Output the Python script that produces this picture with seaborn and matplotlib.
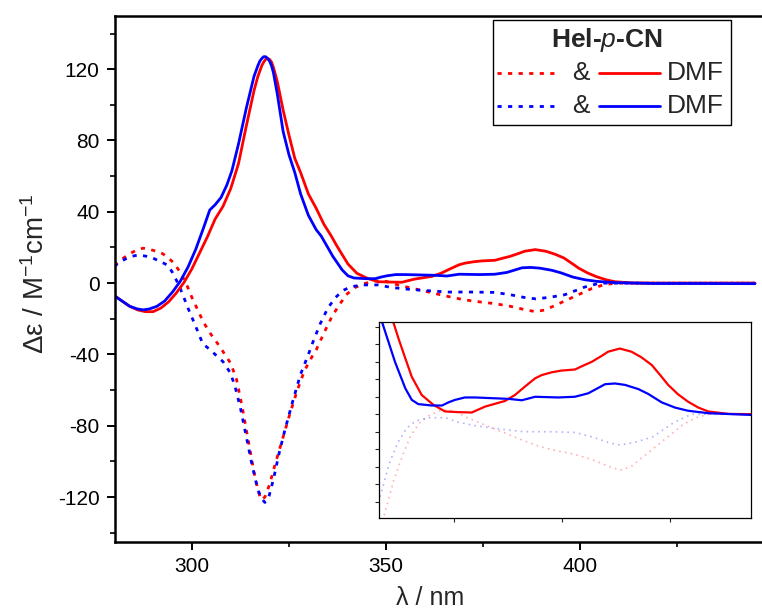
import numpy as np
import pandas as pd
import matplotlib
matplotlib.use("Agg")
import matplotlib.pyplot as plt
from matplotlib.lines import Line2D
from matplotlib.patches import Rectangle
from matplotlib.ticker import MultipleLocator
import seaborn as sns

# ---------------- data ----------------
wl_red_solid = [280, 282, 284, 286, 288, 290, 292, 294, 296, 298, 300, 302, 304, 306,
                308, 310, 312, 314, 316, 317, 318, 318.5, 319, 319.5, 320, 320.5, 321,
                322, 323.5, 325, 326.5, 328, 330, 332, 334, 335.9, 337.3, 338.7, 340.2,
                342.5, 345.2, 347.9, 351, 354.1, 357.2, 361.8, 364.1, 366.4, 368.8,
                370.3, 372.6, 374.9, 378, 379.9, 381.9, 384.2, 385.7, 388.4, 391.1,
                393.4, 395.8, 398.1, 399.6, 401.9, 404.2, 406.6, 408.9, 413.5, 420,
                430, 445]
red_solid = [-7, -10, -13, -15, -16, -16, -14, -10.5, -5.5, 0.5, 8, 17, 26, 36,
             43, 53, 67, 88, 108, 116, 122, 124, 125.5, 126, 125.5, 124, 121,
             113, 97, 83, 70, 62, 50, 42, 33, 26.4, 21, 16, 10.7,
             5.5, 2.7, 0.8, 0.6, 0.5, 2.2, 3.8, 5.5, 7.9, 10.3,
             11.2, 12, 12.5, 12.8, 13.9, 15, 16.7, 17.9, 18.8, 17.9,
             16.3, 14.1, 10.7, 8.4, 5.7, 3.6, 1.9, 0.8, 0.1, 0,
             0, 0]

wl_blue_solid = [280, 282, 284, 286, 287.5, 289, 291, 293, 295, 297, 299, 301, 303, 304.6,
                 306, 307.5, 309, 310.3, 312, 314, 315, 316, 317, 317.5, 318, 318.5, 319,
                 319.5, 320, 320.5, 321, 322, 323.5, 325, 326.5, 328, 330, 332, 333.3,
                 334.8, 336.3, 338.7, 340.2, 341.7, 344.8, 347.2, 348.7, 350.2, 352.5,
                 354.9, 358.7, 362.6, 365.7, 368.8, 374.1, 378, 381.1, 385, 387.3, 389.6,
                 392.7, 395, 398.1, 401.2, 404.2, 408.9, 418.9, 430, 445]
blue_solid = [-7, -10, -13, -14.5, -15, -14.5, -13, -10, -5, 1, 9, 19, 31, 41,
              44, 48, 55, 63, 78, 98, 107, 116, 122, 124.5, 126, 127, 127,
              126, 124.5, 122, 118, 106, 85, 72, 62, 50, 38, 30, 26.4,
              20.7, 15, 7.4, 4.1, 2.9, 2.5, 2.5, 3.4, 4.1, 4.8,
              4.8, 4.6, 4.4, 4.0, 5.0, 4.8, 5.0, 6.0, 8.6, 8.8, 8.4,
              7.2, 5.8, 3.4, 1.9, 1.0, 0.3, -0.2, -0.2, -0.3]

wl_red_dot = [280, 282, 284, 286, 287.5, 289, 291, 292.5, 294, 295.5, 297, 298.5, 300,
              301.5, 303, 305, 307, 308.5, 310, 311.5, 313, 314.5, 316, 317, 317.8,
              318.8, 320, 321.5, 323, 325, 327, 329, 331, 332, 334, 336, 338, 340, 342,
              344, 347, 350, 353, 358, 362, 366, 370, 374, 378, 382, 386, 388.5, 391,
              394, 397, 400, 403, 406, 409, 420, 445]
red_dot = [10, 13.5, 16.5, 18.8, 19.6, 19, 17.8, 16.5, 14, 11, 6, 0, -8,
           -15, -22, -29, -35, -40, -45, -54, -70, -88, -106, -116, -121.5,
           -120, -113, -101, -90, -75, -61, -49, -41, -37.5, -28, -19, -12, -6, -2.5,
           -0.5, 1.2, 1, -1, -3.5, -5.5, -7.5, -9.3, -10.5, -11.5, -13, -15, -16, -15,
           -12, -9, -6, -3, -1, 0, 0, 0]

wl_blue_dot = [280, 282, 284, 286, 288, 290, 292, 293.8, 295, 296, 297, 298, 299, 300.3,
               301.5, 302.8, 304.5, 306, 308, 309.8, 311, 312.5, 314, 315.5, 317, 318,
               318.8, 319.8, 321, 322.5, 324, 326, 328, 330, 331, 333, 335, 337, 339,
               341, 344, 348, 351, 355, 359, 366, 372, 378, 382, 386, 388.5, 392, 396,
               399, 401, 405, 420, 445]
blue_dot = [9.5, 12.5, 14.8, 15.7, 15.2, 14, 12, 10, 6, 1.7, -3, -8.4, -14, -20.7,
            -27, -34, -37, -40, -44, -50, -57, -70, -86, -102, -116, -121,
            -123, -120, -110, -95, -82, -66, -51, -40, -34, -23, -14, -8, -4,
            -2, -1, -1, -2.3, -3.3, -4, -5, -5, -5.2, -6.5, -8.2, -8.8, -8, -6.5,
            -4, -2.3, 0, 0, 0]

x_major_ticks = [300, 350, 400]
y_major_ticks = [-120, -80, -40, 0, 40, 80, 120]
inset_x_ticks = [350, 375, 400]

legend_title = "Hel-$\\mathit{p}$-CN"
legend_rows = ["DMF", "DMF"]

RED = "#ff0000"
BLUE = "#0000ff"

# ---------------- style ----------------
sns.set_theme(style="ticks")
plt.rcParams["font.family"] = ["Liberation Sans", "DejaVu Sans"]
plt.rcParams["mathtext.fontset"] = "custom"
plt.rcParams["mathtext.rm"] = "Liberation Sans"
plt.rcParams["mathtext.it"] = "Liberation Sans:italic"
plt.rcParams["mathtext.bf"] = "Liberation Sans:bold"
plt.rcParams["axes.unicode_minus"] = False

fig = plt.figure(figsize=(7.62, 6.10), dpi=100)
ax = fig.add_axes([0.1509, 0.112, 1.0 - 0.1509, 0.9743 - 0.112])

dot_ls = (0, (1.5, 2.3))
series = [
    (wl_red_dot, red_dot, RED, dot_ls),
    (wl_blue_dot, blue_dot, BLUE, dot_ls),
    (wl_red_solid, red_solid, RED, "-"),
    (wl_blue_solid, blue_solid, BLUE, "-"),
]
for xs, ys, c, ls in series:
    sns.lineplot(x=xs, y=ys, ax=ax, color=c, linestyle=ls, linewidth=2.0,
                 sort=False, estimator=None)

ax.set_xlim(280.2, 446.8)
ax.set_ylim(-145, 150)
ax.set_xticks(x_major_ticks)
ax.set_yticks(y_major_ticks)
ax.xaxis.set_minor_locator(MultipleLocator(25))
ax.yaxis.set_minor_locator(MultipleLocator(20))
ax.tick_params(axis="both", which="major", direction="out", length=6, width=1.4,
               labelsize=15, pad=5, colors="black")
ax.tick_params(axis="both", which="minor", direction="out", length=3.5, width=1.4)
for s in ["left", "bottom", "top"]:
    ax.spines[s].set_linewidth(1.8)
    ax.spines[s].set_color("black")
ax.spines["right"].set_visible(False)

ax.set_xlabel("λ / nm", fontsize=18)
ax.set_ylabel("Δε / M$^{\\mathregular{-1}}$cm$^{\\mathregular{-1}}$", fontsize=20)
ax.xaxis.set_label_coords(0.487, -0.085)
ax.yaxis.set_label_coords(-0.100, 0.51)

# ---------------- legend box (manual) ----------------
fig.patches.append(Rectangle((492.7 / 762, 1 - 125 / 610), (730.7 - 492.7) / 762,
                             (125 - 20) / 610, transform=fig.transFigure,
                             facecolor="white", edgecolor="black", linewidth=1.0,
                             zorder=5))
fig.text(606.7 / 762, 1 - 40 / 610, legend_title, fontsize=19, fontweight="bold",
         ha="center", va="center", zorder=6)
for row_y, c, lab in [(73.3, RED, legend_rows[0]), (105.7, BLUE, legend_rows[1])]:
    yy = 1 - row_y / 610
    fig.lines.append(Line2D([496.7 / 762, 556.7 / 762], [yy, yy], color=c,
                            linestyle=dot_ls, linewidth=2.0,
                            transform=fig.transFigure, zorder=6))
    fig.text(580.7 / 762, yy, "&", fontsize=19, ha="center", va="center", zorder=6)
    fig.lines.append(Line2D([599 / 762, 660 / 762], [yy, yy], color=c,
                            linestyle="-", linewidth=2.0,
                            transform=fig.transFigure, zorder=6))
    fig.text(667 / 762, yy, lab, fontsize=19, ha="left", va="center", zorder=6)

# ---------------- inset ----------------
axin = fig.add_axes([379 / 762, 1 - 518 / 610, (751 - 379) / 762, (518 - 322) / 610])
axin.set_facecolor("white")
for xs, ys, c, ls in series[:2]:
    sns.lineplot(x=xs, y=ys, ax=axin, color=c, linestyle=(0, (1, 2.5)), linewidth=1.2,
                 alpha=0.3, sort=False, estimator=None)
for xs, ys, c, ls in series[2:]:
    sns.lineplot(x=xs, y=ys, ax=axin, color=c, linestyle="-", linewidth=1.6,
                 sort=False, estimator=None)
axin.set_xlim(332.6, 418.8)
axin.set_ylim(-29.7, 26.4)
axin.set_xticks(inset_x_ticks)
axin.yaxis.set_major_locator(MultipleLocator(5))
axin.tick_params(axis="both", which="major", direction="out", length=3, width=0.8,
                 labelbottom=False, labelleft=False)
for s in axin.spines.values():
    s.set_linewidth(0.9)
    s.set_color("black")

fig.savefig("out.png", dpi=100)
